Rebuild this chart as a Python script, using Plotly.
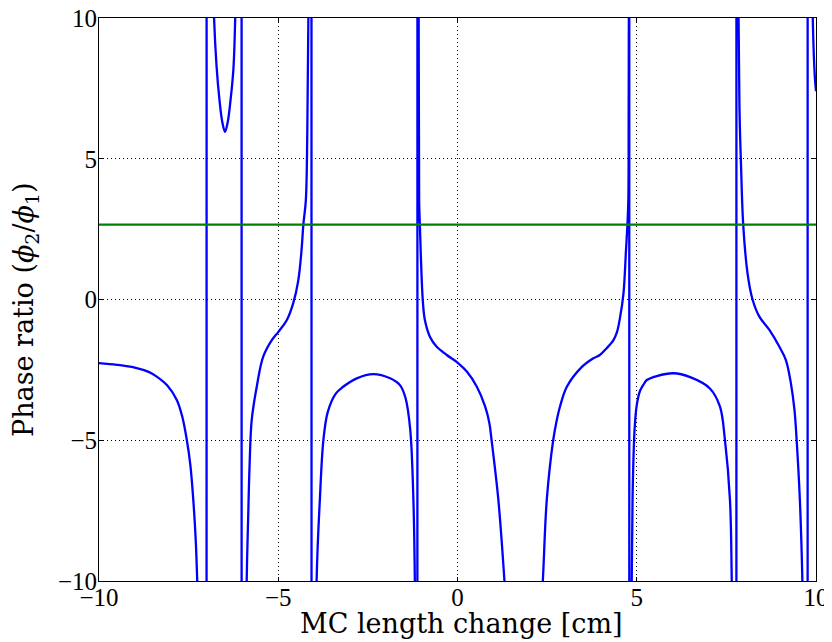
import plotly.graph_objects as go

# Blue curve: phase ratio vs MC length change (values read off the picture;
# large +/- values mark the poles where the curve leaves the plotted range)
x_vals = [
    -10.0, -9.5, -9.0, -8.6, -8.39, -8.1, -7.83, -7.68, -7.55, -7.45, -7.37, -7.3, -7.26,
    -7.2, -7.12, -7.06, -7.01,
    -6.99, -6.95, -6.88, -6.79, -6.72, -6.64, -6.56, -6.485, -6.41, -6.33, -6.25, -6.2,
    -6.13, -6.07, -6.03,
    -6.01, -5.95, -5.88, -5.84, -5.80, -5.74, -5.60, -5.42, -5.18, -4.99, -4.76, -4.58,
    -4.44, -4.35, -4.30, -4.23, -4.19, -4.16, -4.12, -4.08,
    -4.06, -4.0, -3.93, -3.84, -3.74, -3.62, -3.4, -3.19, -2.81, -2.35, -1.88, -1.6,
    -1.45, -1.32, -1.23, -1.19, -1.16, -1.13,
    -1.11, -1.095, -1.08, -1.07, -1.05, -0.97, -0.91, -0.77, -0.58, -0.30, 0.0, 0.26,
    0.54, 0.77, 0.89, 0.95, 1.14, 1.31,
    1.5, 1.85, 2.2,
    2.38, 2.49, 2.67, 2.77, 2.86, 3.05, 3.45, 3.79, 3.97, 4.16, 4.35, 4.45, 4.53, 4.63,
    4.70, 4.74, 4.765, 4.775, 4.782, 4.788, 4.79,
    4.80, 4.83, 4.86, 4.89, 4.94, 5.0, 5.09, 5.19, 5.28, 5.56, 6.02, 6.49, 7.04, 7.32, 7.46,
    7.60, 7.65, 7.70, 7.75, 7.775,
    7.785, 7.81, 7.84, 7.87, 7.91, 7.97, 8.09, 8.23, 8.42, 8.70, 8.98, 9.16, 9.30, 9.40,
    9.46, 9.55, 9.62, 9.68, 9.74, 9.765,
    9.775, 9.83, 9.88, 9.91, 9.97, 10.0,
]
y_vals = [
    -2.26, -2.32, -2.42, -2.58, -2.74, -3.05, -3.57, -4.15, -4.99, -5.9, -7.12, -8.6, -10.0,
    -12.5, -18.0, -35.0, -200.0,
    200.0, 45.0, 17.0, 10.0, 8.27, 7.09, 6.3, 5.96, 6.3, 7.09, 8.2, 10.0,
    14.0, 25.0, 200.0,
    -200.0, -25.0, -10.0, -7.8, -5.9, -4.28, -3.1, -2.03, -1.44, -1.14, -0.73, -0.12,
    0.69, 1.76, 2.66, 3.53, 5.9, 10.0, 18.0, 200.0,
    -200.0, -25.0, -10.0, -7.12, -4.99, -4.0, -3.35, -3.1, -2.8, -2.65, -2.8, -3.05,
    -3.5, -4.6, -7.12, -10.0, -16.0, -200.0,
    200.0, 20.0, 8.0, 3.5, 2.66, 0.0, -0.73, -1.32, -1.68, -1.97, -2.24, -2.56,
    -3.1, -3.8, -4.4, -4.99, -7.12, -10.0,
    -14.0, -17.0, -14.0,
    -10.0, -7.12, -4.99, -4.28, -3.8, -3.1, -2.42, -2.09, -1.97, -1.73, -1.44, -1.15, -0.67, 0.22,
    1.76, 2.66, 3.53, 7.0, 12.0, 40.0, 300.0,
    -300.0, -25.0, -10.0, -6.6, -4.6, -3.75, -3.25, -3.02, -2.86, -2.72, -2.62, -2.76, -3.16, -3.8, -4.99,
    -7.12, -10.0, -16.0, -40.0, -300.0,
    300.0, 40.0, 10.0, 6.5, 4.72, 2.66, 0.93, 0.0, -0.61, -1.08, -1.68, -2.15, -2.98, -3.93,
    -4.99, -7.12, -10.0, -16.0, -40.0, -300.0,
    300.0, 40.0, 15.0, 10.0, 7.86, 7.4,
]

# Green horizontal reference level
green_level = 2.66
green_x = [-10.0, 10.0]

tick_vals = [-10, -5, 0, 5, 10]
tick_text = ["\u221210", "\u22125", "0", "5", "10"]

x_title = "MC length change [cm]"
y_title = "Phase ratio (<i>\u03d5</i><sub>2</sub>/<i>\u03d5</i><sub>1</sub>)"

fig = go.Figure()
fig.add_trace(go.Scatter(x=x_vals, y=y_vals, mode="lines",
                         line=dict(color="#0000ff", width=2.3, shape="spline", smoothing=1.0),
                         showlegend=False, hoverinfo="skip"))
fig.add_trace(go.Scatter(x=green_x, y=[green_level] * len(green_x), mode="lines",
                         line=dict(color="#008000", width=2.3), showlegend=False,
                         hoverinfo="skip"))

axis_common = dict(
    tickvals=tick_vals, ticktext=tick_text,
    showline=True, linecolor="black", linewidth=1, mirror="allticks",
    ticks="inside", ticklen=4, tickcolor="black", tickwidth=1,
    showgrid=True, gridcolor="black", gridwidth=0.8, griddash="1px,3px",
    zeroline=False, automargin=False, ticklabeloverflow="allow",
    tickfont=dict(family="Liberation Serif", size=25, color="black"),
)

fig.update_xaxes(range=[-10, 10], ticklabelstandoff=-6, **axis_common)
fig.update_yaxes(range=[-10, 10], ticklabelstandoff=-4, **axis_common)

# page body adds an 8px offset, so the figure is 824x634 with matching margins
fig.update_layout(
    width=824, height=634,
    margin=dict(l=91, r=16, t=10, b=61, autoexpand=False),
    plot_bgcolor="white", paper_bgcolor="white",
    annotations=[
        dict(text=x_title, xref="paper", yref="paper", x=0.506, y=-0.0755,
             xanchor="center", yanchor="middle", showarrow=False,
             font=dict(family="DejaVu Serif", size=27, color="black")),
        dict(text=y_title, xref="paper", yref="paper", x=-0.1025, y=0.4805,
             xanchor="center", yanchor="middle", showarrow=False, textangle=-90,
             font=dict(family="DejaVu Serif", size=27, color="black")),
    ],
)

fig.write_html("out.html")
